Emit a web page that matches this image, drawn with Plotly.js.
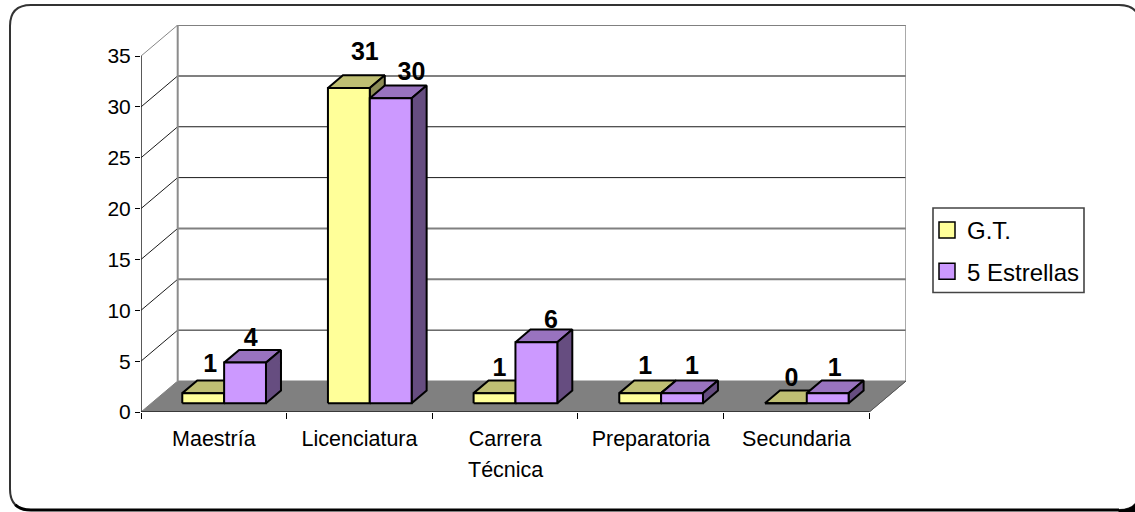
<!DOCTYPE html>
<html>
<head>
<meta charset="utf-8">
<script src="https://cdn.plot.ly/plotly-3.0.1.min.js"></script>
<style>html,body{margin:0;padding:0;background:#fff;overflow:hidden}#chart{width:1135px;height:512px}</style>
</head>
<body>
<div id="chart"></div>
<script>
const categories = ['Maestría', 'Licenciatura', 'Carrera<br>Técnica', 'Preparatoria', 'Secundaria'];
const seriesNames = ['G.T.', '5 Estrellas'];
const gtValues = [1, 31, 1, 1, 0];
const estrellasValues = [4, 30, 6, 1, 1];
const valueTicks = [0, 5, 10, 15, 20, 25, 30, 35];

// Value-label nudges in pixels, per series and category
const gtLabelShift = [[7, -27], [16, -34], [5, -23], [5, -25], [5.7, -24]];
const estrellasLabelShift = [[5.7, -23], [20.7, -24.5], [14.7, -21], [10, -25], [7, -23.3]];

// Fill colours of each box: front, top, side
const gtFaces = ['#FFFF99', '#BFBF73', '#8C8C55'];
const estrellasFaces = ['#CC99FF', '#9973BF', '#664D80'];

// Grid lines drawn in the lighter, heavier stroke
const heavyGrid = [35, 30, 15, 10];

// Scales of the drawing area
const M = {l: 141, r: 229, t: 25, b: 100};
const W = 1135, H = 512;
const pxPerCat = 145.66, pxPerVal = 10.17;
const px = p => p / pxPerCat, py = p => p / pxPerVal;

const wallDx = px(36.7), wallDy = py(31);
const floorEnd = categories.length;
const barW = px(41.85), barDx = px(15), barDy = py(12.7);
const baseDx = px(10.3), baseDy = py(8.7);

const traces = [];
function poly(xs, ys, fill, line, width) {
  traces.push({
    type: 'scatter', mode: 'lines', x: xs, y: ys,
    fill: fill ? 'toself' : 'none', fillcolor: fill || undefined,
    line: {color: line, width: width}, showlegend: false, hoverinfo: 'skip', cliponaxis: false
  });
}

// Floor, then the grid on the back and left walls
poly([0, floorEnd, floorEnd + wallDx, wallDx, 0], [0, 0, wallDy, wallDy, 0], '#808080', '#808080', 1);
valueTicks.forEach(v => {
  if (v === 0) return;
  const heavy = heavyGrid.includes(v);
  poly([wallDx, floorEnd + wallDx], [v + wallDy, v + wallDy], null, heavy ? '#808080' : '#1a1a1a', heavy ? 2 : 1);
  poly([0, wallDx], [v, v + wallDy], null, v === 35 ? '#868686' : '#1a1a1a', 1);
});
const topVal = valueTicks[valueTicks.length - 1];
poly([wallDx, wallDx], [wallDy, topVal + wallDy], null, '#8c8c8c', 2);
poly([floorEnd + wallDx, floorEnd + wallDx], [wallDy, topVal + wallDy], null, '#8c8c8c', 1.5);
poly([floorEnd, floorEnd + wallDx], [0, wallDy], null, '#555555', 1);
poly([0, 0], [0, topVal], null, '#222222', 1.5);
poly([0, floorEnd], [0, 0], null, '#222222', 1.5);

// One extruded box from a value
function box(x0, v, faces) {
  const x1 = x0 + barW, y0 = baseDy, y1 = baseDy + v;
  poly([x0, x1, x1 + barDx, x0 + barDx, x0], [y1, y1, y1 + barDy, y1 + barDy, y1], faces[1], '#000', 2);
  poly([x1, x1 + barDx, x1 + barDx, x1, x1], [y0, y0 + barDy, y1 + barDy, y1, y0], faces[2], '#000', 2);
  poly([x0, x1, x1, x0, x0], [y0, y0, y1, y1, y0], faces[0], '#000', 2);
}
categories.forEach((c, i) => {
  const mid = i + 0.5 + baseDx;
  box(mid - barW, gtValues[i], gtFaces);
  box(mid, estrellasValues[i], estrellasFaces);
});

// Value labels
function labels(vals, shift, side) {
  traces.push({
    type: 'scatter', mode: 'text', showlegend: false, hoverinfo: 'skip', cliponaxis: false,
    x: vals.map((v, i) => i + 0.5 + baseDx + side * barW / 2 + px(shift[i][0])),
    y: vals.map((v, i) => baseDy + v - py(shift[i][1])),
    text: vals.map(String), textposition: 'middle center',
    textfont: {family: 'Liberation Sans, Arial, sans-serif', size: 25, color: '#000', weight: 700}
  });
}
labels(gtValues, gtLabelShift, -1);
labels(estrellasValues, estrellasLabelShift, 1);

// Legend entries
[gtFaces[0], estrellasFaces[0]].forEach((col, i) => traces.push({
  type: 'scatter', mode: 'markers', name: seriesNames[i], legendgroup: seriesNames[i], x: [null], y: [null],
  marker: {symbol: 'square', size: 16, color: col, line: {color: '#000', width: 1.5}}
}));

// Category captions live on an overlaying axis so ticks can sit between them
traces.push({type: 'scatter', mode: 'markers', xaxis: 'x2', yaxis: 'y',
  x: categories.map((c, i) => i + 0.5), y: categories.map(() => 0),
  marker: {opacity: 0, size: 1}, showlegend: false, hoverinfo: 'skip'});

const xRange = [0, (W - M.l - M.r) / pxPerCat];
const yRange = [0, (H - M.t - M.b) / pxPerVal];
const fontFamily = 'Liberation Sans, Arial, sans-serif';
const catFont = {family: fontFamily, size: 21.5, color: '#000'};
const valFont = {family: fontFamily, size: 21, color: '#000'};
const legendFont = {family: fontFamily, size: 24, color: '#000'};
const paperX = p => (p - M.l) / (W - M.l - M.r);
const paperY = p => 1 - (p - M.t) / (H - M.t - M.b);

// Page-pixel helper for the frame shapes
const pt = (x, y) => `${paperX(x)} ${paperY(y)}`;
const fx0 = 10, fx1 = 1140, fy0 = 5, fy1 = 510, r = 21;
const framePath = `M ${pt(fx0 + r, fy0)} L ${pt(fx1 - r, fy0)} Q ${pt(fx1, fy0)} ${pt(fx1, fy0 + r)} ` +
  `L ${pt(fx1, fy1 - r)} Q ${pt(fx1, fy1)} ${pt(fx1 - r, fy1)} L ${pt(fx0 + r, fy1)} ` +
  `Q ${pt(fx0, fy1)} ${pt(fx0, fy1 - r)} L ${pt(fx0, fy0 + r)} Q ${pt(fx0, fy0)} ${pt(fx0 + r, fy0)} Z`;
// Heavier stroke along the bottom edge, starting halfway round the corner
const frameBottom = `M ${pt(fx0 + r / 4, fy1 - r / 4)} Q ${pt(fx0 + r / 2, fy1)} ${pt(fx0 + r, fy1)} L ${pt(fx1 - r, fy1)}`;
const frameCorner = `M ${pt(fx1 - r, fy1)} Q ${pt(fx1, fy1)} ${pt(fx1, fy1 - r)} L ${pt(fx1, H + 2)} L ${pt(fx1 - r, H + 2)} Z`;
const paperShape = (path, extra) => Object.assign({type: 'path', xref: 'paper', yref: 'paper', layer: 'below', path, fillcolor: 'rgba(0,0,0,0)'}, extra);

const caption = c => c.split('<br>');
const layout = {
  width: W, height: H, margin: M, paper_bgcolor: '#fff', plot_bgcolor: 'rgba(0,0,0,0)',
  showlegend: true,
  legend: {x: paperX(927), y: paperY(208), xanchor: 'left', yanchor: 'top',
    bgcolor: 'rgba(0,0,0,0)', borderwidth: 0,
    font: legendFont, itemwidth: 30, tracegroupgap: 7},
  xaxis: {range: xRange, tickmode: 'array', tickvals: [0, 1, 2, 3, 4, 5], ticktext: ['', '', '', '', '', ''],
    ticks: 'outside', ticklen: 6, tickwidth: 1, tickcolor: '#000', showgrid: false, zeroline: false, showline: false},
  xaxis2: {range: xRange, overlaying: 'x', anchor: 'y', side: 'bottom', tickmode: 'array',
    tickvals: categories.map((c, i) => i + 0.5), ticktext: categories.map(c => caption(c)[0]), tickangle: 0,
    ticks: 'outside', ticklen: 7, tickcolor: 'rgba(0,0,0,0)', tickfont: catFont,
    showgrid: false, zeroline: false, showline: false},
  yaxis: {range: yRange, tickmode: 'array', tickvals: valueTicks, ticks: 'outside', ticklen: 5,
    tickwidth: 1, tickcolor: '#000', tickfont: valFont, showgrid: false, zeroline: false, showline: false},
  // Second lines of the two-line category captions
  annotations: categories.flatMap((c, i) => caption(c).slice(1).map(t => ({
    text: t, x: i + 0.5, xref: 'x', y: paperY(470), yref: 'paper', yanchor: 'middle', xanchor: 'center',
    showarrow: false, font: catFont
  }))),
  shapes: [
    paperShape(framePath, {line: {color: '#333', width: 2}}),
    paperShape(frameBottom, {line: {color: '#000', width: 3}}),
    paperShape(frameCorner, {fillcolor: '#000', line: {color: '#000', width: 1}}),
    // Legend frame
    paperShape(`M ${pt(933, 208)} L ${pt(1084, 208)} L ${pt(1084, 292.5)} L ${pt(933, 292.5)} Z`,
      {fillcolor: '#fff', line: {color: '#444', width: 1.6}})
  ]
};
Plotly.newPlot('chart', traces, layout, {displayModeBar: false, staticPlot: true});
</script>
</body>
</html>
